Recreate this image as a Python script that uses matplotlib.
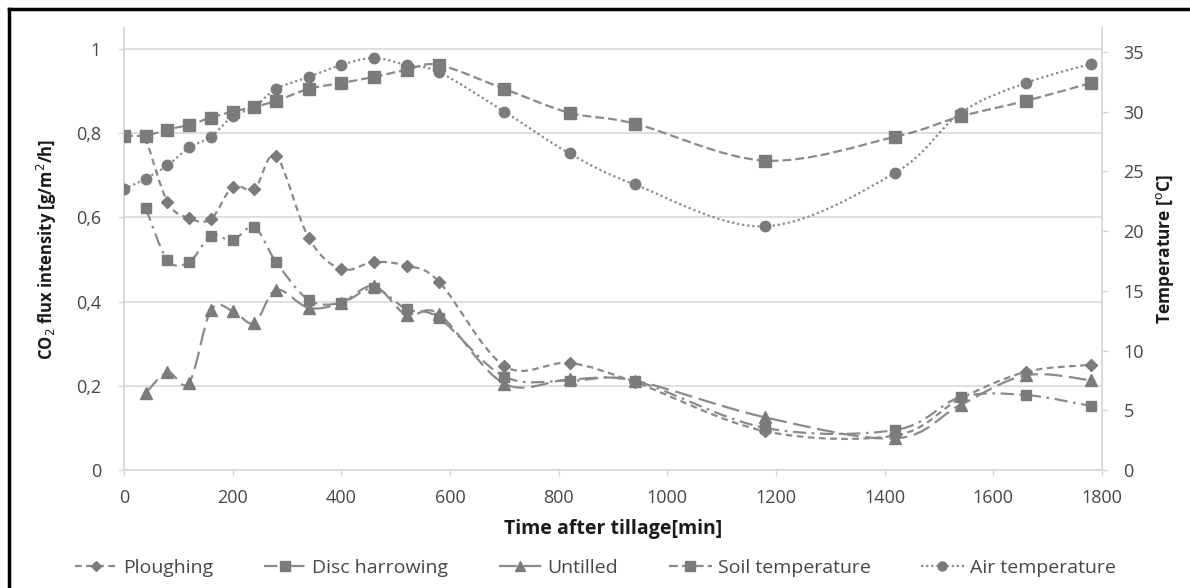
import numpy as np
import matplotlib
matplotlib.use("Agg")
import matplotlib.pyplot as plt
from matplotlib.path import Path
from matplotlib.patches import PathPatch
from matplotlib.lines import Line2D

plt.rcParams["font.family"] = ["Open Sans", "DejaVu Sans"]

# ---- data ----
time_min = [0, 40, 80, 120, 160, 200, 240, 280, 340, 400, 460, 520, 580,
            700, 820, 940, 1180, 1420, 1540, 1660, 1780]
flux_time = time_min[1:]

ploughing = [0.79, 0.637, 0.598, 0.596, 0.673, 0.667, 0.746, 0.551, 0.477,
             0.494, 0.485, 0.447, 0.247, 0.254, 0.209, 0.092, 0.082, 0.170,
             0.233, 0.250]
disc_harrowing = [0.622, 0.499, 0.494, 0.556, 0.546, 0.577, 0.494, 0.404,
                  0.397, 0.432, 0.382, 0.361, 0.222, 0.212, 0.212, 0.100,
                  0.095, 0.173, 0.178, 0.152]
untilled = [0.183, 0.232, 0.207, 0.380, 0.378, 0.349, 0.428, 0.385, 0.397,
            0.437, 0.368, 0.370, 0.205, 0.215, 0.212, 0.125, 0.075, 0.155,
            0.225, 0.213]
soil_temp = [28.0, 28.0, 28.5, 28.9, 29.5, 30.0, 30.4, 30.9, 31.9, 32.4,
             32.9, 33.5, 33.9, 31.9, 29.9, 29.0, 25.9, 27.9, 29.6, 30.9, 32.4]
air_temp = [23.5, 24.4, 25.5, 27.0, 27.9, 29.6, 30.4, 31.9, 32.9, 33.9,
            34.5, 33.9, 33.3, 30.0, 26.5, 23.9, 20.4, 24.9, 29.9, 32.4, 34.0]

x_ticks = [0, 200, 400, 600, 800, 1000, 1200, 1400, 1600, 1800]
flux_ticks = [0, 0.2, 0.4, 0.6, 0.8, 1.0]
flux_tick_labels = ["0", "0,2", "0,4", "0,6", "0,8", "1"]
temp_ticks = [0, 5, 10, 15, 20, 25, 30, 35]

LINE_C = "#8a8a8a"
MARK_C = "#7b7b7b"
TXT_C = "#474747"
GRID_C = "#d9d9d9"


def smooth_path(x, y):
    # Excel-style smoothed line: Catmull-Rom segments as cubic Bezier
    pts = np.column_stack([x, y]).astype(float)
    verts = [pts[0]]
    codes = [Path.MOVETO]
    n = len(pts)
    for i in range(n - 1):
        p0 = pts[i - 1] if i > 0 else pts[i]
        p1 = pts[i]
        p2 = pts[i + 1]
        p3 = pts[i + 2] if i + 2 < n else pts[i + 1]
        verts += [p1 + (p2 - p0) / 6, p2 - (p3 - p1) / 6, p2]
        codes += [Path.CURVE4] * 3
    return Path(verts, codes)


fig = plt.figure(figsize=(11.9, 5.88), dpi=100)
ax = fig.add_axes([0.1042, 0.2007, 0.8218, 0.7517])
ax2 = ax.twinx()

series = [
    ("Ploughing", ax, flux_time, ploughing, (0, (3, 2)), "D", 6),
    ("Disc harrowing", ax, flux_time, disc_harrowing, (0, (6, 2.5, 1.2, 2.5)), "s", 7.5),
    ("Untilled", ax, flux_time, untilled, (0, (8, 3)), "^", 8),
    ("Soil temperature", ax2, time_min, soil_temp, (0, (4, 1.8)), "s", 8.5),
    ("Air temperature", ax2, time_min, air_temp, (0, (1, 1.3)), "o", 7.5),
]

handles = []
for label, a, xs, ys, ls, mk, ms in series:
    patch = PathPatch(smooth_path(xs, ys), fill=False, edgecolor=LINE_C,
                      lw=1.6, linestyle=ls, zorder=3)
    a.add_patch(patch)
    a.plot(xs, ys, linestyle="none", marker=mk, markersize=ms,
           color=MARK_C, markeredgecolor=MARK_C, zorder=4)
    handles.append(Line2D([], [], color=LINE_C, lw=1.6, linestyle=ls,
                          marker=mk, markersize=ms - 1, markerfacecolor=MARK_C,
                          markeredgecolor=MARK_C, label=label))

ax.set_xlim(0, 1800)
ax.set_ylim(0, 1.05)
ax2.set_ylim(0, 37)

ax.set_xticks(x_ticks)
ax.set_yticks(flux_ticks)
ax.set_yticklabels(flux_tick_labels)
ax2.set_yticks(temp_ticks)

ax.grid(axis="y", color=GRID_C, lw=1.2)
ax.set_axisbelow(True)

for a in (ax, ax2):
    a.spines["top"].set_visible(False)
    for s in ("left", "right", "bottom"):
        a.spines[s].set_color(GRID_C)
        a.spines[s].set_linewidth(1.2)
    a.tick_params(colors=GRID_C, labelcolor=TXT_C, labelsize=13,
                  length=4.5, width=1.0)
ax.tick_params(axis="x", pad=9)
ax.tick_params(axis="y", pad=12)
ax2.tick_params(axis="y", pad=11)

ax.set_xlabel("Time after tillage[min]", fontsize=14, fontweight="bold",
              color="#1a1a1a")
ax.set_ylabel("CO$_2$ flux intensity [g/m$^2$/h]", fontsize=12,
              fontweight="bold", color="#1a1a1a")
ax2.set_ylabel("Temperature [$^{\\mathrm{o}}$C]", fontsize=12.5,
               fontweight="bold", color="#1a1a1a")
ax.xaxis.set_label_coords(0.5, -0.111)
ax.xaxis.label.set_va("top")
ax.yaxis.set_label_coords(-0.0787, 0.5)
ax.yaxis.label.set_va("center")
ax2.yaxis.set_label_coords(1.0644, 0.5)
ax2.yaxis.label.set_va("center")

fig.legend(handles=handles, loc="center", bbox_to_anchor=(0.5, 0.034),
           ncol=5, frameon=False, fontsize=14, handlelength=2.2,
           handletextpad=0.3, columnspacing=2.6, labelcolor=TXT_C)

# black frame of the original figure (left and top edges)
fig.add_artist(Line2D([0.0076, 0.0076], [0.0, 0.985], color="black", lw=2.5,
                      transform=fig.transFigure))
fig.add_artist(Line2D([0.0076, 1.0], [0.985, 0.985], color="black", lw=2.5,
                      transform=fig.transFigure))

fig.savefig("out.png", dpi=100)
